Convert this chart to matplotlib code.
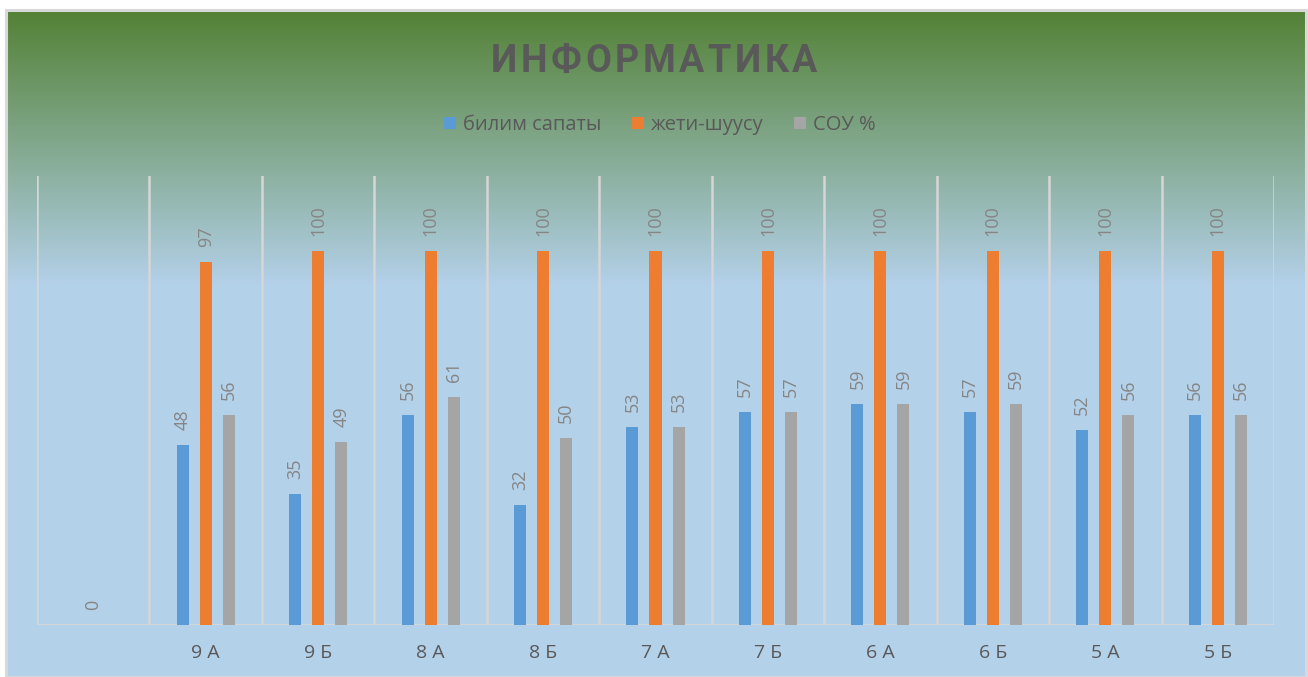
import numpy as np
import matplotlib
matplotlib.use("Agg")
import matplotlib.pyplot as plt
from matplotlib.patches import Rectangle, Patch

plt.rcParams['font.family'] = ['Open Sans', 'DejaVu Sans']

categories = ["", "9 А", "9 Б", "8 А", "8 Б", "7 А", "7 Б", "6 А", "6 Б", "5 А", "5 Б"]
series_names = ["билим сапаты", "жети-шуусу", "СОУ %"]
bilim = [0, 48, 35, 56, 32, 53, 57, 59, 57, 52, 56]
jeti = [None, 97, 100, 100, 100, 100, 100, 100, 100, 100, 100]
sou = [None, 56, 49, 61, 50, 53, 57, 59, 59, 56, 56]
title = "ИНФОРМАТИКА"

colors = ["#5B9BD5", "#ED7D31", "#A5A5A5"]
text_dark = "#595959"
label_col = "#858585"

W, H = 1308, 677
fig = plt.figure(figsize=(W / 100, H / 100), dpi=100)
fig.patch.set_facecolor("white")

# background gradient
bg = fig.add_axes([6 / W, 0, (1306 - 6) / W, (677 - 10) / H])
bg.set_axis_off()
top = np.array([83, 129, 53]) / 255
bot = np.array([180, 209, 234]) / 255
n = 667
ys = np.arange(n)
t = np.clip(ys / 275.0, 0, 1)[:, None]
grad = top[None, :] * (1 - t) + bot[None, :] * t
img = np.repeat(grad[:, None, :], 2, axis=1)
bg.imshow(img, aspect="auto", extent=[0, 1, 0, 1], origin="upper")
bg.set_xlim(0, 1)
bg.set_ylim(0, 1)
bg.add_patch(Rectangle((0, 0), 1, 1, transform=bg.transAxes, fill=False,
                       edgecolor="#D9D9D9", lw=2.2, clip_on=False))

ax = fig.add_axes([37 / W, (H - 625) / H, (1274 - 37) / W, (625 - 176) / H])
ax.patch.set_alpha(0)
x = np.arange(len(categories))
bw = 0.107
off = 0.205
ax.set_xlim(-0.5, len(categories) - 0.5)
ax.set_ylim(0, 120)

for b in np.arange(-0.5, len(categories), 1.0):
    ax.axvline(b, color="#D6D6D6", lw=1.8, zorder=0)
ax.axhline(0, color="#D6D6D6", lw=2.2, zorder=1)

for i, (vals, c) in enumerate(zip([bilim, jeti, sou], colors)):
    xs = [xi + (i - 1) * off for xi, v in zip(x, vals) if v not in (None, 0)]
    vs = [v for v in vals if v not in (None, 0)]
    ax.bar(xs, vs, width=bw, color=c, zorder=2)
    for xi, v in zip(xs, vs):
        ax.annotate(str(v), (xi, v), xytext=(0, 10.8), textcoords="offset points",
                    rotation=90, ha="center", va="bottom", fontsize=13,
                    color=label_col)

# zero value label in first category
for xi, v in zip(x, bilim):
    if v == 0:
        ax.annotate("0", (xi, 0), xytext=(0, 10.8), textcoords="offset points",
                    rotation=90, ha="center", va="bottom", fontsize=13,
                    color=label_col)

for s in ax.spines.values():
    s.set_visible(False)
ax.set_yticks([])
ax.set_xticks(x)
ax.set_xticklabels(categories, fontsize=14, color=text_dark)
ax.tick_params(axis="x", length=0, pad=14)

# legend
handles = [Patch(facecolor=c, edgecolor="none") for c in colors]
leg = fig.legend(handles, series_names, loc="center", bbox_to_anchor=(660 / W, 1 - 125 / H),
                 ncol=3, frameon=False, fontsize=14.5, handlelength=0.6, handleheight=0.6,
                 handletextpad=0.35, columnspacing=1.5)
for tx in leg.get_texts():
    tx.set_color(text_dark)

# letter-spaced title
fig.canvas.draw()
r = fig.canvas.get_renderer()
target = 327.0
fs = 29.0
while True:
    chars = []
    widths = []
    for ch in title:
        t_ = fig.text(0, 0, ch, fontsize=fs, fontweight="bold", color=text_dark,
                      family=["Roboto", "DejaVu Sans"])
        widths.append(t_.get_window_extent(r).width)
        chars.append(t_)
    gap = (target - sum(widths)) / (len(title) - 1)
    if gap >= 3.5 or fs <= 18:
        break
    for t_ in chars:
        t_.remove()
    fs -= 0.5
xpos = 654 - target / 2
for t_, w in zip(chars, widths):
    t_.set_position((xpos / W, 1 - 72 / H))
    xpos += w + gap

fig.savefig("out.png", dpi=100)
